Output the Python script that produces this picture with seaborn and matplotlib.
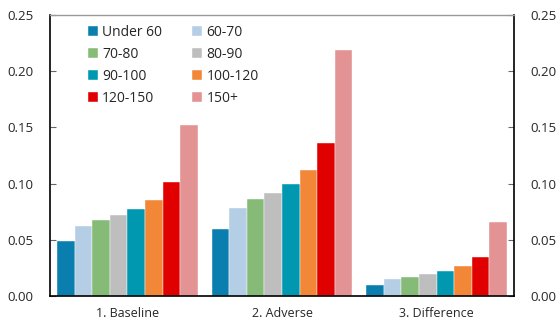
import pandas as pd
import numpy as np
from matplotlib import pyplot as plt
from matplotlib.ticker import FormatStrFormatter
import seaborn as sns

scenarios = ["1. Baseline", "2. Adverse", "3. Difference"]
bands = ["Under 60", "60-70", "70-80", "80-90", "90-100", "100-120", "120-150", "150+"]
baseline = [0.049, 0.062, 0.068, 0.072, 0.077, 0.085, 0.101, 0.152]
adverse = [0.060, 0.078, 0.086, 0.092, 0.100, 0.112, 0.136, 0.219]
difference = [0.010, 0.015, 0.017, 0.020, 0.022, 0.027, 0.035, 0.066]
colors = ["#0A7FAF", "#B3CEE5", "#86BB77", "#BEBEBE", "#0098B0", "#F28837", "#E00000", "#E39394"]

rows = []
for scen, vals in zip(scenarios, [baseline, adverse, difference]):
    for band, v in zip(bands, vals):
        rows.append({"scenario": scen, "band": band, "value": v})
df = pd.DataFrame(rows)

sns.set_style("white")
plt.rcParams['font.family'] = ['Open Sans', 'DejaVu Sans']

fig = plt.figure(figsize=(5.56, 3.29), dpi=100)
ax = fig.add_axes([50 / 556, 33 / 329, 464 / 556, 281 / 329])
sns.barplot(data=df, x="scenario", y="value", hue="band", hue_order=bands,
            palette=colors, width=0.91, saturation=1, ax=ax,
            edgecolor="white", linewidth=0.3)

ax.set_xlim(-0.5, 2.5)
ax.set_ylim(0, 0.25)
ax.set_yticks(np.arange(0, 0.2501, 0.05))
ax.yaxis.set_major_formatter(FormatStrFormatter("%.2f"))
ax.set_xlabel("")
ax.set_ylabel("")
ax.tick_params(axis="y", direction="in", length=4, width=0.8, color="#666666",
               left=True, right=True, labelleft=True, labelright=True,
               labelsize=9.5, pad=12)
ax.tick_params(axis="x", length=0, labelsize=9, pad=8)
for s in ["left", "right", "bottom"]:
    ax.spines[s].set_color("black")
    ax.spines[s].set_linewidth(1.2)
ax.spines["top"].set_color("#999999")
ax.spines["top"].set_linewidth(1)

# legend fills row by row: reorder for matplotlib's column-major layout
handles, labels = ax.get_legend_handles_labels()
order = [0, 2, 4, 6, 1, 3, 5, 7]
leg = ax.legend([handles[i] for i in order], [labels[i] for i in order],
                loc="upper left", bbox_to_anchor=(0.07, 0.985), ncol=2,
                frameon=False, fontsize=10, handlelength=0.7, handleheight=0.7,
                handletextpad=0.3, columnspacing=2.2, labelspacing=0.5,
                borderaxespad=0)

fig.savefig("out.png", dpi=100)
